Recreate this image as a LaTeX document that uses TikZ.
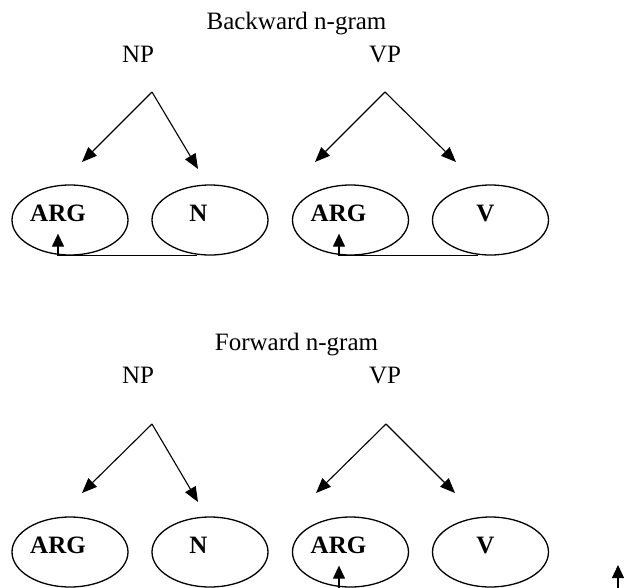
\documentclass[tikz,border=0pt]{standalone}
\usepackage{fontspec}
\setmainfont{Liberation Serif}
\usetikzlibrary{shapes.geometric,arrows.meta}
\begin{document}
\begin{tikzpicture}[x=1pt,y=-1pt,
  txt/.style={anchor=base,inner sep=0pt,font=\fontsize{25}{30}\selectfont},
  lbl/.style={anchor=base,inner sep=0pt,font=\fontsize{25}{30}\selectfont\bfseries},
  oval/.style={ellipse,draw,line width=1.3pt,minimum width=116pt,minimum height=70pt,inner sep=0pt},
  arr/.style={line width=1.1pt,-{Triangle[length=15pt,width=12pt]}},
  conn/.style={line width=1.3pt,-{Triangle[length=13pt,width=12pt]}}]
\useasboundingbox (0,0) rectangle (624,587);
\clip (0,0) rectangle (624,587);
% ---------- Backward ----------
\node[txt] (t1) at (296.5,29) {Backward n-gram};
\node[txt] (np1) at (138,62) {NP};
\node[txt] (vp1) at (385,62) {VP};
\coordinate (a1) at (152,92);
\coordinate (a2) at (385,92);
\coordinate (l1) at (82,162);
\coordinate (r1) at (198,169);
\coordinate (l2) at (315,162);
\coordinate (r2) at (456,162);
\draw[arr] (a1) -- (l1);
\draw[arr] (a1) -- (r1);
\draw[arr] (a2) -- (l2);
\draw[arr] (a2) -- (r2);
\node[oval] (e1) at (70,220) {};
\node[oval] (e2) at (210,220) {};
\node[oval] (e3) at (350.5,220) {};
\node[oval] (e4) at (490.5,220) {};
\node[lbl] (w1) at (58,221) {ARG};
\node[lbl] (w2) at (198.5,221) {N};
\node[lbl] (w3) at (338.5,221) {ARG};
\node[lbl] (w4) at (485.5,221) {V};
\draw[conn] ([xshift=-13pt]e2.south) -| ([xshift=-12pt,yshift=22pt]e1.south);
\draw[conn] ([xshift=-12.5pt]e4.south) -| ([xshift=-11.5pt,yshift=22pt]e3.south);
% ---------- Forward ----------
\node[txt] (t2) at (296.5,350) {Forward n-gram};
\node[txt] (np2) at (138,383) {NP};
\node[txt] (vp2) at (385,383) {VP};
\coordinate (a3) at (152,424);
\coordinate (a4) at (386,424);
\coordinate (l3) at (82,493);
\coordinate (r3) at (198,502);
\coordinate (l4) at (316,493);
\coordinate (r4) at (455,493);
\draw[arr] (a3) -- (l3);
\draw[arr] (a3) -- (r3);
\draw[arr] (a4) -- (l4);
\draw[arr] (a4) -- (r4);
\node[oval] (e5) at (70,552) {};
\node[oval] (e6) at (210,552) {};
\node[oval] (e7) at (350.5,552) {};
\node[oval] (e8) at (490.5,552) {};
\node[lbl] (w5) at (58,553) {ARG};
\node[lbl] (w6) at (198.5,553) {N};
\node[lbl] (w7) at (338.5,553) {ARG};
\node[lbl] (w8) at (485.5,553) {V};
\coordinate (b1) at (339,600);
\coordinate (b2) at (618,600);
\coordinate (c2) at (618,565);
\draw[conn] (b1) -- ([xshift=-11.5pt,yshift=22pt]e7.south);
\draw[conn] (b2) -- (c2);
\end{tikzpicture}
\end{document}
